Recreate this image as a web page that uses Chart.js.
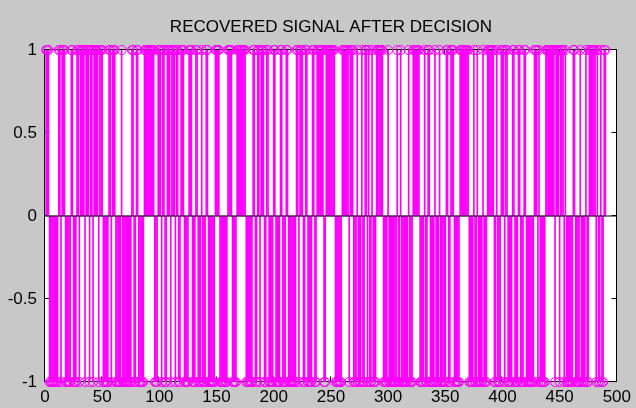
<!DOCTYPE html>
<html>
<head>
<meta charset="utf-8">
<script src="https://cdn.jsdelivr.net/npm/chart.js@4.4.1/dist/chart.umd.min.js"></script>
<style>
  html, body { margin: 0; padding: 0; background: #c8c8c8; }
  #wrap { width: 636px; height: 408px; }
</style>
</head>
<body>
<div id="wrap"><canvas id="c" width="636" height="408"></canvas></div>
<script>
// Title and tick labels
const chartTitle = 'RECOVERED SIGNAL AFTER DECISION';
const xTicks = [0, 50, 100, 150, 200, 250, 300, 350, 400, 450, 500];
const yTicks = [-1, -0.5, 0, 0.5, 1];

// Recovered bits (+1 / -1), sample index 1..490
const signal = [
   1, 1, 1,-1,-1,-1,-1,-1,-1,-1,
  -1, 1, 1,-1, 1, 1, 1,-1,-1,-1,
  -1,-1, 1, 1,-1,-1,-1, 1, 1,-1,
   1, 1, 1, 1,-1, 1, 1, 1,-1, 1,
   1,-1, 1, 1, 1, 1,-1, 1, 1, 1,
  -1,-1,-1,-1,-1, 1, 1,-1, 1, 1,
   1,-1,-1,-1,-1,-1, 1,-1,-1,-1,
  -1,-1,-1,-1,-1, 1, 1,-1,-1, 1,
   1,-1,-1,-1,-1,-1, 1, 1, 1, 1,
   1, 1, 1, 1, 1,-1,-1,-1, 1, 1,
   1,-1, 1, 1,-1,-1, 1, 1, 1,-1,
   1, 1, 1,-1, 1, 1,-1,-1, 1, 1,
   1,-1,-1,-1,-1, 1, 1, 1,-1,-1,
  -1, 1, 1,-1,-1,-1, 1,-1,-1,-1,
   1, 1,-1,-1,-1,-1,-1,-1, 1, 1,
   1, 1,-1,-1,-1,-1,-1,-1,-1, 1,
   1, 1, 1,-1,-1,-1,-1, 1, 1, 1,
   1, 1, 1, 1, 1,-1,-1,-1,-1,-1,
  -1, 1, 1,-1,-1, 1, 1,-1, 1, 1,
   1,-1,-1, 1, 1,-1,-1,-1,-1, 1,
   1,-1,-1,-1,-1, 1, 1,-1,-1,-1,
   1, 1,-1,-1,-1,-1,-1,-1,-1, 1,
   1,-1, 1, 1, 1,-1,-1, 1, 1,-1,
  -1,-1,-1, 1, 1,-1,-1, 1, 1, 1,
   1, 1, 1,-1,-1, 1, 1, 1, 1, 1,
   1, 1, 1,-1,-1,-1,-1,-1,-1, 1,
   1, 1, 1, 1, 1,-1, 1, 1, 1,-1,
  -1,-1, 1,-1,-1,-1, 1,-1,-1, 1,
   1,-1, 1,-1,-1, 1,-1,-1,-1, 1,
   1, 1, 1, 1, 1,-1,-1,-1,-1, 1,
  -1,-1,-1,-1,-1,-1,-1, 1,-1,-1,
   1,-1,-1,-1,-1,-1,-1, 1,-1,-1,
  -1, 1, 1, 1, 1, 1, 1,-1,-1,-1,
  -1, 1,-1,-1, 1, 1,-1,-1,-1,-1,
   1,-1,-1,-1, 1,-1,-1,-1,-1,-1,
   1, 1,-1,-1, 1, 1, 1,-1,-1,-1,
  -1,-1, 1, 1, 1, 1, 1, 1, 1, 1,
  -1,-1,-1,-1, 1,-1,-1, 1,-1,-1,
  -1,-1, 1,-1,-1,-1, 1, 1, 1, 1,
   1, 1,-1,-1, 1,-1,-1,-1, 1, 1,
   1,-1, 1, 1,-1,-1,-1,-1, 1, 1,
  -1,-1,-1, 1, 1,-1,-1,-1, 1, 1,
  -1,-1,-1,-1,-1,-1,-1, 1, 1, 1,
  -1, 1,-1,-1,-1,-1,-1, 1, 1, 1,
   1, 1, 1, 1, 1,-1, 1, 1, 1,-1,
   1, 1, 1,-1, 1,-1,-1,-1,-1,-1,
  -1, 1, 1,-1,-1,-1,-1, 1,-1,-1,
  -1,-1, 1,-1,-1, 1, 1, 1, 1, 1,
   1,-1, 1,-1,-1, 1,-1,-1, 1, 1
];
const sampleIndex = signal.map((v, i) => i + 1);
const baselineX = [0, 500];
const baselineY = [0, 0];

const MAGENTA = '#ff00ff';
const FONT = "'Liberation Sans', Arial, sans-serif";

const stemPoints = sampleIndex.map((x, i) => ({ x: x, y: signal[i] }));
const basePoints = baselineX.map((x, i) => ({ x: x, y: baselineY[i] }));

const framePlugin = {
  id: 'frame',
  beforeDraw(chart) {
    const { ctx, chartArea: a } = chart;
    ctx.save();
    ctx.fillStyle = '#c8c8c8';
    ctx.fillRect(0, 0, chart.width, chart.height);
    ctx.fillStyle = '#ffffff';
    ctx.fillRect(a.left, a.top, a.right - a.left, a.bottom - a.top);
    ctx.restore();
  },
  beforeDatasetsDraw(chart) {
    const { ctx, chartArea: a, scales } = chart;
    const L = Math.round(a.left) - 0.5, R = Math.round(a.right) - 0.5;
    const T = Math.round(a.top) - 0.5, B = Math.round(a.bottom) - 0.5;
    ctx.save();
    ctx.strokeStyle = '#000';
    ctx.lineWidth = 1;
    ctx.beginPath();
    ctx.rect(L, T, R - L, B - T);
    const tl = 5;
    scales.x.ticks.forEach(t => {
      const px = Math.round(scales.x.getPixelForValue(t.value)) - 0.5;
      ctx.moveTo(px, B); ctx.lineTo(px, B - tl);
      ctx.moveTo(px, T); ctx.lineTo(px, T + tl);
    });
    scales.y.ticks.forEach(t => {
      const py = Math.round(scales.y.getPixelForValue(t.value)) - 0.5;
      ctx.moveTo(L, py); ctx.lineTo(L + tl, py);
      ctx.moveTo(R, py); ctx.lineTo(R - tl, py);
    });
    ctx.stroke();
    ctx.restore();
  }
};

new Chart(document.getElementById('c'), {
  type: 'bar',
  data: {
    datasets: [
      {
        type: 'line',
        label: 'baseline',
        data: basePoints,
        borderColor: '#000000',
        borderWidth: 1,
        pointRadius: 0,
        order: 0
      },
      {
        type: 'line',
        label: 'markers',
        data: stemPoints,
        showLine: false,
        pointStyle: 'circle',
        pointRadius: 4.5,
        pointBorderWidth: 1,
        pointBorderColor: MAGENTA,
        pointBackgroundColor: 'rgba(0,0,0,0)',
        clip: false,
        order: 1
      },
      {
        type: 'bar',
        label: 'stems',
        data: stemPoints,
        backgroundColor: MAGENTA,
        borderWidth: 0,
        barThickness: 1,
        order: 2
      }
    ]
  },
  options: {
    responsive: false,
    animation: false,
    events: [],
    layout: { padding: { left: 0, right: 16, top: 0, bottom: 0 } },
    plugins: {
      legend: { display: false },
      tooltip: { enabled: false },
      title: {
        display: true,
        text: chartTitle,
        fullSize: false,
        color: '#000',
        font: { family: FONT, size: 17, weight: 'normal', lineHeight: 1.2 },
        padding: { top: 17, bottom: 12.6 }
      }
    },
    scales: {
      x: {
        type: 'linear',
        offset: false,
        min: xTicks[0],
        max: xTicks[xTicks.length - 1],
        afterBuildTicks: s => { s.ticks = xTicks.map(v => ({ value: v })); },
        afterFit: s => { s.height = 26; },
        grid: { display: false, drawTicks: false, offset: false },
        border: { display: false },
        ticks: {
          color: '#000',
          padding: 5,
          maxRotation: 0,
          autoSkip: false,
          callback: v => String(v),
          font: { family: FONT, size: 17 }
        }
      },
      y: {
        type: 'linear',
        min: yTicks[0],
        max: yTicks[yTicks.length - 1],
        afterBuildTicks: s => { s.ticks = yTicks.map(v => ({ value: v })); },
        afterFit: s => { s.width = 45; },
        grid: { display: false, drawTicks: false },
        border: { display: false },
        ticks: {
          color: '#000',
          padding: 8,
          callback: v => String(v),
          font: { family: FONT, size: 17 }
        }
      }
    }
  },
  plugins: [framePlugin]
});
</script>
</body>
</html>
